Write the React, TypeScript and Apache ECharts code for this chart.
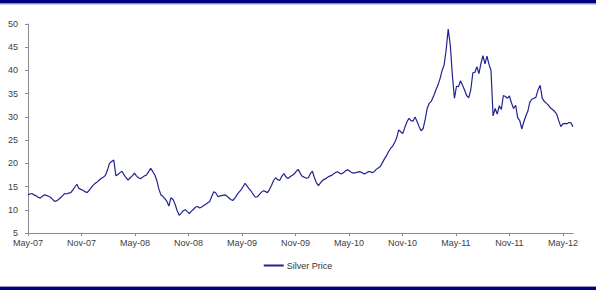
import React, { useEffect, useRef } from "react";
import * as echarts from "echarts";

// Weekly silver price (USD/oz), first week starting 1 May 2007
const startDate = "2007-05-01";
const silverPrice: number[] = [
  13.2, 13.4, 13.5, 13.2, 13.0, 12.7, 12.5, 12.9, 13.2, 13.1,
  12.9, 12.7, 12.3, 11.8, 11.9, 12.2, 12.6, 13.0, 13.5, 13.4,
  13.6, 13.7, 14.3, 14.9, 15.5, 14.6, 14.4, 14.2, 13.9, 13.7,
  14.2, 14.8, 15.3, 15.7, 16.0, 16.4, 16.8, 17.0, 17.4, 18.5,
  20.0, 20.4, 20.7, 17.3, 17.6, 18.0, 18.3, 17.5, 16.9, 16.4,
  16.9, 17.3, 17.9, 17.3, 16.9, 16.7, 17.0, 17.3, 17.5, 18.2,
  18.9, 18.2, 17.5, 16.3, 14.5, 13.2, 12.9, 12.4, 11.8, 10.8,
  12.6, 12.2, 11.2, 9.8, 8.8, 9.3, 9.8, 10.0, 9.6, 9.2,
  9.7, 10.1, 10.6, 10.7, 10.4, 10.6, 10.9, 11.2, 11.5, 11.8,
  12.9, 13.9, 13.6, 12.8, 13.0, 13.1, 13.2, 13.0, 12.6, 12.2,
  12.0, 12.5, 13.2, 13.8, 14.3, 15.0, 15.7, 15.1, 14.5, 14.0,
  13.3, 12.7, 12.8, 13.3, 13.8, 14.1, 13.9, 13.7, 14.4, 15.3,
  16.3, 16.9, 16.5, 16.3, 17.2, 17.8, 17.1, 16.7, 17.1, 17.4,
  17.7, 18.2, 18.7, 17.9, 17.2, 17.0, 16.8, 16.9, 17.8, 18.3,
  16.9, 15.8, 15.2, 15.8, 16.3, 16.6, 16.9, 17.2, 17.4, 17.7,
  18.0, 18.2, 17.9, 17.7, 18.0, 18.4, 18.6, 18.3, 18.0, 17.9,
  18.0, 18.1, 18.2, 18.0, 17.7, 17.9, 18.2, 18.2, 18.0, 18.2,
  18.7, 19.0, 19.3, 20.1, 20.9, 21.6, 22.5, 23.2, 23.7, 24.5,
  25.5, 27.2, 26.8, 26.4, 27.7, 28.9, 29.7, 29.2, 29.1, 30.0,
  29.0, 27.9, 27.0, 27.5, 29.4, 31.8, 32.9, 33.4, 34.5, 35.8,
  36.9, 38.3, 40.0, 41.2, 44.4, 48.9, 45.5, 39.0, 34.0, 36.6,
  36.5, 37.8, 36.8, 35.8, 34.6, 34.1, 35.8, 39.5, 39.6, 40.8,
  39.3, 41.5, 43.2, 41.4, 43.1, 41.3, 40.0, 30.2, 31.8, 30.6,
  32.4, 31.6, 34.6, 34.4, 34.0, 34.5, 33.0, 31.8, 32.5, 29.8,
  29.2, 27.4, 28.9, 30.2, 31.2, 33.2, 33.8, 34.0, 34.2, 35.8,
  36.8, 34.0, 33.3, 32.9, 32.5, 31.9, 31.6, 31.2, 30.6, 29.2,
  27.9, 28.5, 28.6, 28.5, 28.8, 28.7, 27.9,
];

const tickLabels: string[] = [
  "May-07", "Nov-07", "May-08", "Nov-08", "May-09", "Nov-09",
  "May-10", "Nov-10", "May-11", "Nov-11", "May-12",
];

const seriesName = "Silver Price";

const start = new Date(startDate + "T00:00:00Z");
// months elapsed since the first tick (May-07) for a given date
function monthsSinceStart(d: Date): number {
  const y = d.getUTCFullYear();
  const m = d.getUTCMonth();
  const day = d.getUTCDate();
  const dim = new Date(Date.UTC(y, m + 1, 0)).getUTCDate();
  return (y - start.getUTCFullYear()) * 12 + (m - start.getUTCMonth()) + (day - 1) / dim;
}

export default function App() {
  const ref = useRef<HTMLDivElement>(null);

  useEffect(() => {
    if (!ref.current) return;
    const chart = echarts.init(ref.current, undefined, { renderer: "svg" });

    const data = silverPrice.map((v, i) => {
      const d = new Date(start.getTime() + i * 7 * 86400000);
      return [monthsSinceStart(d), v];
    });
    const xMax = data[data.length - 1][0] as number;
    const tickValues = tickLabels.map((_, i) => i * 6);

    chart.setOption({
      animation: false,
      backgroundColor: "#ffffff",
      textStyle: { fontFamily: "Liberation Sans, Arial, sans-serif" },
      grid: { left: 28, right: 23, top: 24, bottom: 57, outerBoundsMode: "none" },
      legend: {
        data: [seriesName],
        left: "center",
        top: 261,
        padding: 0,
        itemWidth: 20,
        itemHeight: 2,
        itemGap: 4,
        icon: "rect",
        textStyle: { fontSize: 9, color: "#333333", padding: [0, 0, 0, -2] },
      },
      xAxis: {
        type: "value",
        min: 0,
        max: xMax,
        interval: 6,
        axisLine: { show: true, lineStyle: { color: "#8c8c8c", width: 1 } },
        axisTick: {
          show: true,
          length: 3,
          customValues: tickValues,
          lineStyle: { color: "#8c8c8c" },
        },
        axisLabel: {
          customValues: tickValues,
          fontSize: 9,
          color: "#404040",
          margin: 5,
          hideOverlap: false,
          formatter: (v: number) => {
            const k = Math.round(v / 6);
            return Math.abs(v - k * 6) < 1e-6 && tickLabels[k] ? tickLabels[k] : "";
          },
        },
        splitLine: { show: false },
      },
      yAxis: {
        type: "value",
        min: 5,
        max: 50,
        interval: 5,
        axisLine: { show: true, lineStyle: { color: "#8c8c8c", width: 1 } },
        axisTick: { show: true, length: 3, lineStyle: { color: "#8c8c8c" } },
        axisLabel: { fontSize: 9, color: "#404040", margin: 10 },
        splitLine: { show: false },
      },
      series: [
        {
          name: seriesName,
          type: "line",
          data,
          symbol: "none",
          lineStyle: { color: "#23238f", width: 1.2 },
          itemStyle: { color: "#23238f" },
        },
      ],
      graphic: [
        { type: "rect", left: 0, top: 0, shape: { width: 596, height: 3.5 }, style: { fill: "#000080" } },
        { type: "rect", left: 0, top: 3.5, shape: { width: 596, height: 1 }, style: { fill: "#9a9acc" } },
        { type: "rect", left: 0, top: 286, shape: { width: 596, height: 1 }, style: { fill: "#9a9acc" } },
        { type: "rect", left: 0, top: 287, shape: { width: 596, height: 3 }, style: { fill: "#000080" } },
      ],
    });

    return () => chart.dispose();
  }, []);

  return (
    <div
      ref={ref}
      style={{ position: "fixed", left: 0, top: 0, width: 596, height: 290, background: "#fff" }}
    />
  );
}
